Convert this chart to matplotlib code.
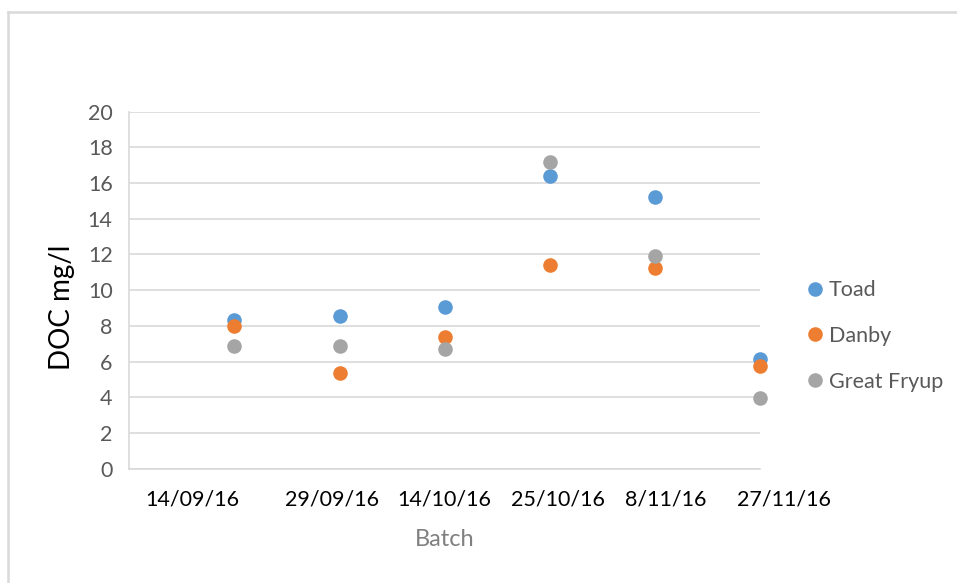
import matplotlib
matplotlib.use("Agg")
import matplotlib.pyplot as plt
import matplotlib.transforms as mtransforms
from matplotlib.lines import Line2D

plt.rcParams["font.family"] = ["Lato", "DejaVu Sans"]

# Sampling batches (x positions are batch indices 1..6)
batch_index = [1, 2, 3, 4, 5, 6]
batch_labels = ["14/09/16", "29/09/16", "14/10/16", "25/10/16", "8/11/16", "27/11/16"]
label_positions = [0.6, 1.93, 3.0, 4.08, 5.1, 6.23]

# Dissolved organic carbon (mg/l) per site
toad = [8.33, 8.55, 9.05, 16.42, 15.2, 6.13]
danby = [8.0, 5.38, 7.36, 11.41, 11.26, 5.75]
great_fryup = [6.9, 6.9, 6.69, 17.17, 11.93, 3.98]

series = [
    ("Toad", toad, "#5B9BD5"),
    ("Danby", danby, "#ED7D31"),
    ("Great Fryup", great_fryup, "#A5A5A5"),
]

fig = plt.figure(figsize=(9.57, 5.83), dpi=100)
ax = fig.add_axes([129.3 / 957, 1 - 468.7 / 583, (760 - 129.3) / 957, (468.7 - 111.7) / 583])

for name, vals, col in series:
    ax.plot(batch_index, vals, linestyle="none", marker="o", markersize=10.5,
            color=col, markeredgewidth=0, clip_on=False, zorder=3, label=name)

ax.set_yticks(range(0, 21, 2))
ax.set_xticks([])
ax.set_xlim(0, 6)
ax.set_ylim(0, 20)
ax.yaxis.grid(True, color="#d9d9d9", linewidth=1.2)
ax.set_axisbelow(True)

for s in ["top", "right"]:
    ax.spines[s].set_visible(False)
for s in ["left", "bottom"]:
    ax.spines[s].set_color("#d9d9d9")
    ax.spines[s].set_linewidth(1.2)

ax.tick_params(axis="y", length=0, pad=12, labelsize=15.5, labelcolor="#595959")

# Batch date labels below the axis
label_trans = mtransforms.blended_transform_factory(ax.transData, fig.transFigure)
for pos, lab in zip(label_positions, batch_labels):
    ax.text(pos, 1 - 500 / 583, lab, transform=label_trans, ha="center", va="center",
            fontsize=15.5, color="black", clip_on=False)

fig.text(62 / 957, 1 - 307 / 583, "DOC mg/l", rotation=90, ha="center", va="center",
         fontsize=20, color="black")
fig.text(445 / 957, 1 - 540 / 583, "Batch", ha="center", va="center",
         fontsize=17, color="#808080")

# Legend entries on the right
handles = [Line2D([], [], linestyle="none", marker="o", markersize=10.5,
                  color=c, markeredgewidth=0) for _, _, c in series]
leg = fig.legend(handles, [n for n, _, _ in series], loc="center left",
                 bbox_to_anchor=(800 / 957, 1 - 336 / 583), frameon=False,
                 fontsize=15.5, labelcolor="#595959", handlelength=0.6,
                 handletextpad=0.35, labelspacing=1.2, borderaxespad=0)

# Light chart-area frame along the top and left edges
fig.add_artist(Line2D([8 / 957, 8 / 957], [0, 1 - 12 / 583], color="#d9d9d9",
                      linewidth=1.8, transform=fig.transFigure))
fig.add_artist(Line2D([8 / 957, 1], [1 - 12 / 583, 1 - 12 / 583], color="#d9d9d9",
                      linewidth=1.8, transform=fig.transFigure))

fig.savefig("out.png", dpi=100)
